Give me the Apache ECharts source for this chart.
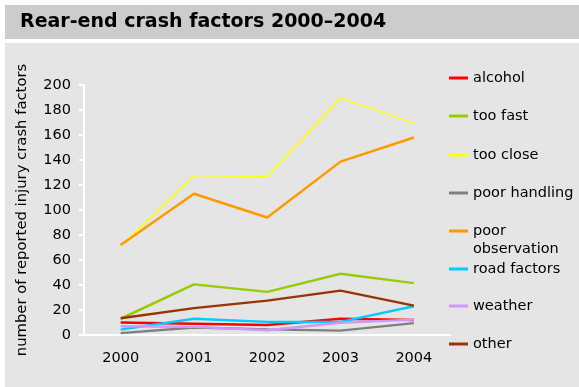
<!DOCTYPE html>
<html><head><meta charset="utf-8">
<script src="https://cdn.jsdelivr.net/npm/echarts@6/dist/echarts.min.js"></script>
<style>html,body{margin:0;padding:0;background:#fff}#c{width:579px;height:387px}</style>
</head><body><div id="c"></div>
<script>
const years = ['2000','2001','2002','2003','2004'];
const alcohol = [10, 9, 8, 13, 12];
const tooFast = [13, 40.5, 34.5, 49, 41.5];
const tooClose = [71, 127.5, 126.7, 189.5, 169.5];
const poorHandling = [1.5, 6, 4.5, 3.5, 9.5];
const poorObservation = [72, 113, 94, 138.7, 158];
const roadFactors = [4.3, 13, 10.5, 10.5, 23];
const weather = [7, 6.5, 3.8, 9.8, 12.3];
const other = [13.4, 21.5, 27.5, 35.5, 23.5];
const yTicks = [0,20,40,60,80,100,120,140,160,180,200];

const FONT = 'DejaVu Sans';
const FS = 14.5;
const seriesDefs = [
  {name:'alcohol', data:alcohol, color:'#ff0000', w:2.5, y:78},
  {name:'too fast', data:tooFast, color:'#99cc00', w:2.5, y:116},
  {name:'too close', data:tooClose, color:'#ffff00', w:1.5, y:155},
  {name:'poor handling', data:poorHandling, color:'#808080', w:2.5, y:193},
  {name:'poor observation', data:poorObservation, color:'#ff9900', w:2.5, y:231},
  {name:'road factors', data:roadFactors, color:'#00ccff', w:2.5, y:269},
  {name:'weather', data:weather, color:'#cc99ff', w:2.5, y:306},
  {name:'other', data:other, color:'#993300', w:2.5, y:344}
];

const legends = seriesDefs.map(s => {
  const two = s.name === 'poor observation';
  return {
    data:[s.name], left:449, top: two ? s.y - 27 : s.y - 9,
    orient:'vertical', selectedMode:false, padding:0,
    itemWidth:19, itemHeight:3, icon:'rect',
    formatter: two ? ' \npoor\nobservation' : '{name}',
    textStyle:{fontFamily:FONT, fontSize:FS, color:'#000', lineHeight:18}
  };
});

const chart = echarts.init(document.getElementById('c'), null, {renderer:'canvas'});
chart.setOption({
  animation:false,
  backgroundColor:'#ffffff',
  graphic:[
    {type:'rect', shape:{x:5,y:5,width:574,height:34}, style:{fill:'#cccccc'}, z:-10},
    {type:'rect', shape:{x:5,y:43,width:574,height:344}, style:{fill:'#e5e5e5'}, z:-10},
    {type:'text', left:20, top:13, style:{text:'Rear-end crash factors 2000\u20132004', font:'bold 19px "DejaVu Sans"', fill:'#000'}}
  ],
  grid:{left:84, right:128.5, top:85, bottom:52, containLabel:false},
  legend: legends,
  xAxis:{type:'category', data:years, boundaryGap:true,
    axisLine:{lineStyle:{color:'#ffffff', width:2}},
    axisTick:{show:false},
    axisLabel:{fontFamily:FONT, fontSize:FS, color:'#000', margin:16},
    splitLine:{show:false}},
  yAxis:{type:'value', min:0, max:200, interval:20,
    name:'number of reported injury crash factors', nameLocation:'middle', nameGap:54,
    nameTextStyle:{fontFamily:FONT, fontSize:14.8, color:'#000'},
    axisLine:{show:true, lineStyle:{color:'#ffffff', width:2}},
    axisTick:{show:true, length:5, lineStyle:{color:'#ffffff', width:2}},
    axisLabel:{fontFamily:FONT, fontSize:FS, color:'#000', margin:13,
      formatter: v => yTicks.includes(v) ? String(v) : ''},
    splitLine:{show:false}},
  series: seriesDefs.map(s => ({
    name:s.name, type:'line', data:s.data, symbol:'none', color:s.color,
    lineStyle:{color:s.color, width:s.w}, z: s.name==='too close' ? 1 : 2
  }))
});
</script></body></html>
